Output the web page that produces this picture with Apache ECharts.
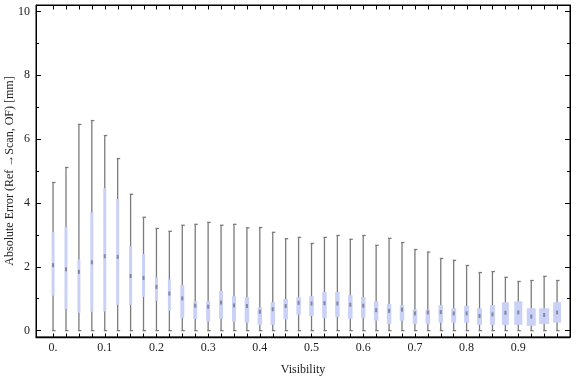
<!DOCTYPE html>
<html>
<head>
<meta charset="utf-8">
<script src="https://cdn.jsdelivr.net/npm/echarts@6/dist/echarts.min.js"></script>
<style>
  html, body { margin: 0; padding: 0; background: #fff; }
  #chart { width: 576px; height: 377px; }
</style>
</head>
<body>
<div id="chart"></div>
<script>
// visibility bins (x position of each box)
var visibility = [0, 0.025, 0.05, 0.075, 0.1, 0.125, 0.15, 0.175, 0.2, 0.225,
  0.25, 0.275, 0.3, 0.325, 0.35, 0.375, 0.4, 0.425, 0.45, 0.475,
  0.5, 0.525, 0.55, 0.575, 0.6, 0.625, 0.65, 0.675, 0.7, 0.725,
  0.75, 0.775, 0.8, 0.825, 0.85, 0.875, 0.9, 0.925, 0.95, 0.975];

// whisker ends, quartiles, median (mm)
var errMin = [0, 0, 0, 0, 0, 0, 0, 0, 0, 0,
  0, 0, 0, 0, 0, 0, 0, 0, 0, 0,
  0, 0, 0, 0, 0, 0, 0, 0, 0, 0,
  0, 0, 0, 0, 0, 0, 0, 0, 0, 0];
var errQ1 = [1.10, 0.68, 0.56, 0.59, 0.60, 0.81, 0.81, 1.06, 0.93, 0.62,
  0.40, 0.37, 0.28, 0.37, 0.28, 0.25, 0.18, 0.18, 0.35, 0.50,
  0.46, 0.40, 0.43, 0.37, 0.40, 0.31, 0.21, 0.31, 0.21, 0.21,
  0.25, 0.25, 0.25, 0.18, 0.18, 0.18, 0.18, 0.15, 0.21, 0.25];
var errMedian = [2.05, 1.92, 1.84, 2.14, 2.33, 2.31, 1.71, 1.65, 1.37, 1.16,
  1.01, 0.78, 0.75, 0.88, 0.79, 0.77, 0.59, 0.67, 0.77, 0.87,
  0.85, 0.86, 0.85, 0.81, 0.78, 0.64, 0.62, 0.66, 0.54, 0.57,
  0.58, 0.54, 0.54, 0.46, 0.51, 0.56, 0.57, 0.44, 0.49, 0.57];
var errQ3 = [3.09, 3.24, 2.23, 3.70, 4.46, 4.12, 2.64, 2.40, 1.67, 1.60,
  1.43, 0.92, 0.92, 1.24, 1.08, 1.05, 0.73, 0.89, 0.99, 1.05,
  1.08, 1.21, 1.21, 1.11, 1.05, 0.92, 0.83, 0.80, 0.67, 0.67,
  0.80, 0.70, 0.77, 0.70, 0.80, 0.89, 0.92, 0.70, 0.70, 0.89];
var errMax = [4.64, 5.11, 6.46, 6.58, 6.11, 5.39, 4.27, 3.55, 3.20, 3.11,
  3.30, 3.33, 3.39, 3.30, 3.33, 3.22, 3.23, 3.08, 2.88, 2.92,
  2.73, 2.92, 2.98, 2.86, 2.98, 2.67, 2.89, 2.76, 2.54, 2.46,
  2.26, 2.20, 2.04, 1.82, 1.85, 1.67, 1.54, 1.57, 1.70, 1.57];
// relative box width per bin
var binWeight = [0.3, 0.3, 0.3, 0.3, 0.3, 0.3, 0.3, 0.3, 0.3, 0.3,
  0.4, 0.4, 0.4, 0.4, 0.4, 0.45, 0.45, 0.45, 0.45, 0.45,
  0.45, 0.45, 0.45, 0.45, 0.45, 0.45, 0.45, 0.45, 0.45, 0.45,
  0.45, 0.5, 0.5, 0.5, 0.5, 0.7, 0.8, 0.9, 1.0, 0.8];

// tick labels
var xLabelValues = [0, 0.1, 0.2, 0.3, 0.4, 0.5, 0.6, 0.7, 0.8, 0.9];
var xLabelText = ['0.', '0.1', '0.2', '0.3', '0.4', '0.5', '0.6', '0.7', '0.8', '0.9'];
var yMajor = [0, 2, 4, 6, 8, 10];
var yMinor = [1, 3, 5, 7, 9];

var X_MIN = -0.033, X_MAX = 1.0, Y_MIN = -0.2, Y_MAX = 10.2;

var boxData = [];
for (var i = 0; i < visibility.length; i++) {
    boxData.push([visibility[i], errMin[i], errQ1[i], errMedian[i], errQ3[i], errMax[i], binWeight[i]]);
}

var FONT = '"Liberation Serif", "DejaVu Serif", serif';

function renderBox(params, api) {
    var x = api.value(0);
    var pMin = api.coord([x, api.value(1)]);
    var pQ1 = api.coord([x, api.value(2)]);
    var pMed = api.coord([x, api.value(3)]);
    var pQ3 = api.coord([x, api.value(4)]);
    var pMax = api.coord([x, api.value(5)]);
    var w = api.value(6) * 10;
    var cx = pMin[0];
    var line = { stroke: '#7b7b7b', lineWidth: 1.3 };
    return {
        type: 'group',
        children: [
            { type: 'line', shape: { x1: cx, y1: pMin[1], x2: cx, y2: pMax[1] }, style: line },
            { type: 'line', shape: { x1: cx - 1, y1: pMax[1], x2: cx + 2.5, y2: pMax[1] }, style: line },
            { type: 'line', shape: { x1: cx - 1, y1: pMin[1], x2: cx + 2.5, y2: pMin[1] }, style: line },
            { type: 'rect', shape: { x: cx - w / 2, y: pQ3[1], width: w, height: pQ1[1] - pQ3[1] },
              style: { fill: '#cad1f6' } },
            { type: 'rect', shape: { x: cx - 1, y: pMed[1] - 2, width: 2, height: 4 },
              style: { fill: 'rgba(110,110,125,0.75)' } }
        ]
    };
}

// top frame edge: one tick per bin, placed through the x scale
function renderTopTick(params, api) {
    var cs = params.coordSys;
    var px = Math.round(api.coord([api.value(0), Y_MAX])[0]) + 0.5;
    var top = Math.round(cs.y) + 0.5;
    var kids = [{ type: 'line', shape: { x1: px, y1: top, x2: px, y2: top + 4 },
                  style: { stroke: '#000', lineWidth: 1 } }];
    if (params.dataIndex === 0) {
        kids.push({ type: 'line', shape: { x1: cs.x, y1: top, x2: cs.x + cs.width, y2: top },
                    style: { stroke: '#000', lineWidth: 1.2 } });
    }
    return { type: 'group', children: kids };
}

var topTickData = visibility.map(function (v) { return [v, Y_MAX]; });

var myChart = echarts.init(document.getElementById('chart'));

function tick(len, vals) {
    return { show: true, inside: true, length: len, customValues: vals, lineStyle: { color: '#000', width: 1 } };
}

var option = {
    animation: false,
    grid: {
        show: true, borderColor: '#000', borderWidth: 1, backgroundColor: 'rgba(0,0,0,0)',
        left: 36, right: 6, top: 5, bottom: 40, containLabel: false, outerBoundsMode: 'none'
    },
    xAxis: {
        type: 'value',
        position: 'bottom',
        offset: 0,
        min: X_MIN,
        max: X_MAX,
        name: 'Visibility',
        nameLocation: 'middle',
        nameGap: 27,
        nameTextStyle: { fontFamily: FONT, fontSize: 12, color: '#222' },
        axisLine: { show: true, onZero: false, lineStyle: { color: '#000', width: 1.3 } },
        axisTick: tick(3.5, visibility),
        splitLine: { show: false },
        axisLabel: {
            customValues: xLabelValues,
            margin: 5,
            fontFamily: FONT, fontSize: 12, color: '#222',
            formatter: function (v) {
                var k = xLabelValues.indexOf(Math.round(v * 1000) / 1000);
                return k >= 0 ? xLabelText[k] : '';
            }
        }
    },
    yAxis: [{
        type: 'value',
        position: 'left',
        offset: 0,
        min: Y_MIN,
        max: Y_MAX,
        name: 'Absolute Error (Ref \u2192Scan, OF) [mm]',
        nameLocation: 'middle',
        nameGap: 20,
        nameMoveOverlap: false,
        nameTextStyle: { fontFamily: FONT, fontSize: 12, color: '#222' },
        axisLine: { show: true, onZero: false, lineStyle: { color: '#000', width: 1 } },
        axisTick: tick(5, yMajor),
        splitLine: { show: false },
        axisLabel: {
            customValues: yMajor,
            margin: 6,
            fontFamily: FONT, fontSize: 12, color: '#222'
        }
    }, {
        type: 'value',
        position: 'left',
        offset: 0,
        min: Y_MIN,
        max: Y_MAX,
        axisLine: { show: false, onZero: false },
        axisTick: tick(3, yMinor),
        splitLine: { show: false },
        axisLabel: { show: false }
    }, {
        type: 'value',
        position: 'right',
        offset: 0,
        min: Y_MIN,
        max: Y_MAX,
        axisLine: { show: true, onZero: false, lineStyle: { color: '#000', width: 1 } },
        axisTick: tick(5, yMajor),
        splitLine: { show: false },
        axisLabel: { show: false }
    }, {
        type: 'value',
        position: 'right',
        offset: 0,
        min: Y_MIN,
        max: Y_MAX,
        axisLine: { show: false, onZero: false },
        axisTick: tick(3, yMinor),
        splitLine: { show: false },
        axisLabel: { show: false }
    }],
    series: [{
        type: 'custom',
        renderItem: renderBox,
        encode: { x: 0, y: [1, 2, 3, 4, 5] },
        data: boxData,
        clip: false
    }, {
        type: 'custom',
        renderItem: renderTopTick,
        encode: { x: 0, y: 1 },
        data: topTickData,
        silent: true,
        clip: false,
        z: 10
    }]
};

myChart.setOption(option);
</script>
</body>
</html>
